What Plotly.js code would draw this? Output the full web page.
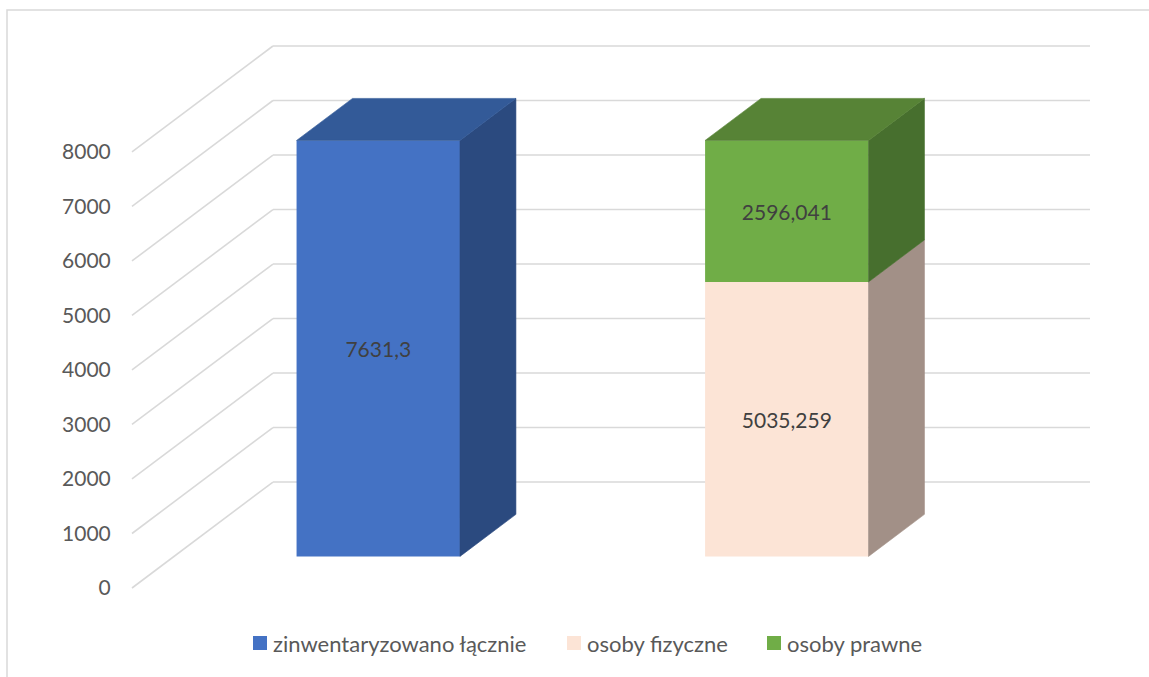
<!DOCTYPE html>
<html><head><meta charset="utf-8">
<script src="https://cdn.plot.ly/plotly-3.0.1.min.js"></script>
<style>html,body{margin:0;padding:0;background:#fff}#chart{width:1149px;height:677px}</style>
</head><body><div id="chart"></div>
<script>
// ---------- data ----------
const seriesNames = ['zinwentaryzowano łącznie', 'osoby fizyczne', 'osoby prawne'];
const seriesSlot = [0, 1, 1];                 // which bar column each series stacks into
const seriesValues = [7631.3, 5035.259, 2596.041];
const seriesLabels = ['7631,3', '5035,259', '2596,041'];
const tickValues = [0, 1000, 2000, 3000, 4000, 5000, 6000, 7000, 8000];
const tickLabels = ['0', '1000', '2000', '3000', '4000', '5000', '6000', '7000', '8000'];

// ---------- style ----------
const frontColors = ['#4472C4', '#FCE4D6', '#70AD47'];
const sideColors  = ['#2B4A7F', '#A29087', '#476F2E'];
const topColors   = ['#335A98', '#C9B6AB', '#578336'];
const FONT = 'Lato, "Open Sans", sans-serif';
const W = 1149, H = 677;
const M = {l: 122, r: 49, t: 36, b: 79};
const plotW = W - M.l - M.r, plotH = H - M.t - M.b;

// oblique projection of the floor depth (d = 0 front ... 1 back wall)
const DX = 0.345;      // category units for full depth
const DY = 1943.5;     // value units for full depth
const D1 = 0.298, D2 = 0.695;   // bar front / back depth
const HALF = 0.2;               // half bar width
const ox = d => DX * d, oy = d => DY * d;
const padX = 10 / 408.5, padY = 10 / 0.05451;
const nCat = 2;
const xRange = [-0.5 - padX, nCat - 0.5 + DX + padX];
const yMax = tickValues[tickValues.length - 1];
const yRange = [-padY, yMax + DY + padY];

const traces = [];
const stackBase = {};
const segs = seriesValues.map((v, i) => {
  const c = seriesSlot[i];
  const b = stackBase[c] || 0;
  stackBase[c] = b + v;
  return {c, b, v, i};
});
// front faces: real bar traces
segs.forEach(s => {
  traces.push({
    type: 'bar', name: seriesNames[s.i],
    x: [s.c + ox(D1)], y: [s.v], base: [s.b + oy(D1)], width: 0.4,
    marker: {color: frontColors[s.i], line: {width: 0}},
    text: [seriesLabels[s.i]], textposition: 'inside', insidetextanchor: 'middle',
    textangle: 0, constraintext: 'none',
    textfont: {family: FONT, size: 21, color: '#404040'},
    hoverinfo: 'skip', showlegend: false
  });
});
// side faces and top faces
segs.forEach(s => {
  const xr = s.c + HALF, xl = s.c - HALF;
  const v0 = s.b, v1 = s.b + s.v;
  traces.push({
    type: 'scatter', mode: 'lines', fill: 'toself', fillcolor: sideColors[s.i],
    line: {width: 0.6, color: sideColors[s.i]},
    x: [xr + ox(D1), xr + ox(D2), xr + ox(D2), xr + ox(D1), xr + ox(D1)],
    y: [v0 + oy(D1), v0 + oy(D2), v1 + oy(D2), v1 + oy(D1), v0 + oy(D1)],
    hoverinfo: 'skip', showlegend: false, cliponaxis: false
  });
  const isTop = Math.abs(v1 - stackBase[s.c]) < 1e-9;
  if (isTop) {
    traces.push({
      type: 'scatter', mode: 'lines', fill: 'toself', fillcolor: topColors[s.i],
      line: {width: 0.6, color: topColors[s.i]},
      x: [xl + ox(D1), xr + ox(D1), xr + ox(D2), xl + ox(D2), xl + ox(D1)],
      y: [v1 + oy(D1), v1 + oy(D1), v1 + oy(D2), v1 + oy(D2), v1 + oy(D1)],
      hoverinfo: 'skip', showlegend: false, cliponaxis: false
    });
  }
});

// gridlines: side-wall diagonals and back-wall lines
const gridColor = '#D9D9D9';
const shapes = [];
tickValues.forEach(v => {
  shapes.push({type: 'line', xref: 'x', yref: 'y', layer: 'below',
    x0: -0.5, y0: v, x1: -0.5 + DX, y1: v + DY, line: {color: gridColor, width: 1.6}});
  shapes.push({type: 'line', xref: 'x', yref: 'y', layer: 'below',
    x0: -0.5 + DX, y0: v + DY, x1: nCat - 0.5 + DX, y1: v + DY, line: {color: gridColor, width: 1.6}});
});
// pixel -> paper helpers
const px2x = p => (p - M.l) / plotW;
const py2y = p => (H - M.b - p) / plotH;
// chart border
shapes.push({type: 'rect', xref: 'paper', yref: 'paper', layer: 'below',
  x0: px2x(7), x1: px2x(1165), y0: py2y(690), y1: py2y(10),
  line: {color: '#D9D9D9', width: 1.5}, fillcolor: 'rgba(0,0,0,0)'});

// manual legend
const legendSquareX = [253, 567, 767];
const annotations = [];
seriesNames.forEach((n, i) => {
  const sx = legendSquareX[i];
  shapes.push({type: 'rect', xref: 'paper', yref: 'paper',
    x0: px2x(sx), x1: px2x(sx + 14), y0: py2y(650), y1: py2y(636),
    fillcolor: frontColors[i], line: {width: 0}});
  annotations.push({xref: 'paper', yref: 'paper', x: px2x(sx + 18), y: py2y(643),
    xanchor: 'left', yanchor: 'middle', showarrow: false, text: n,
    font: {family: FONT, size: 22, color: '#595959'}});
});

const layout = {
  width: W, height: H, margin: M,
  paper_bgcolor: '#fff', plot_bgcolor: 'rgba(0,0,0,0)',
  barmode: 'overlay', showlegend: false,
  xaxis: {range: xRange, visible: false, fixedrange: true},
  yaxis: {range: yRange, tickvals: tickValues, ticktext: tickLabels,
    showgrid: false, zeroline: false, showline: false,
    ticks: 'outside', ticklen: 6, tickcolor: 'rgba(0,0,0,0)',
    tickfont: {family: FONT, size: 21, color: '#595959'}, fixedrange: true},
  shapes, annotations,
  font: {family: FONT}
};
Plotly.newPlot('chart', traces, layout, {staticPlot: true, displayModeBar: false});
</script></body></html>
